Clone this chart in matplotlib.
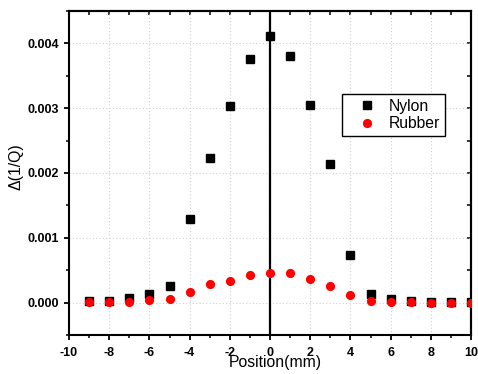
import matplotlib
matplotlib.use("Agg")
import matplotlib.pyplot as plt
from matplotlib.ticker import MultipleLocator, FormatStrFormatter

# ---- data ----
positions = [-9, -8, -7, -6, -5, -4, -3, -2, -1, 0, 1, 2, 3, 4, 5, 6, 7, 8, 9, 10]
nylon = [0.00003, 0.00002, 0.00007, 0.00014, 0.00026, 0.00129, 0.002235, 0.003035,
         0.00376, 0.00412, 0.00380, 0.003057, 0.00214, 0.00074, 0.00014, 0.00006,
         0.00003, 0.00001, 0.00001, 0.00001]
rubber = [0.000005, 0.000005, 0.00001, 0.00004, 0.00006, 0.00016, 0.00028, 0.00034,
          0.00042, 0.00046, 0.00045, 0.00036, 0.00025, 0.00012, 0.00003, 0.000005,
          0.000005, 0.0, 0.0, 0.0]
series_labels = ["Nylon", "Rubber"]
x_label = "Position(mm)"
y_label = "\u0394(1/Q)"

plt.rcParams["font.family"] = ["Liberation Sans", "DejaVu Sans"]
plt.rcParams["axes.unicode_minus"] = False

W, H = 478, 374
fig = plt.figure(figsize=(W / 100, H / 100), dpi=100)
ax = fig.add_axes([69 / W, 1 - 335 / H, (471 - 69) / W, (335 - 11) / H])

ax.set_xlim(-10, 10)
ax.set_ylim(-0.0005, 0.0045)

# grid
ax.grid(True, which="major", linestyle=(0, (1, 2)), color="#d0d0d0", linewidth=0.8)
ax.set_axisbelow(True)

# vertical line at zero
ax.axvline(0, color="black", linewidth=1.6, zorder=2)

ax.plot(positions, nylon, linestyle="none", marker="s", markersize=5.2,
        color="black", label=series_labels[0], zorder=3)
ax.plot(positions, rubber, linestyle="none", marker="o", markersize=6.6,
        color="#ff0000", markeredgewidth=0, label=series_labels[1], zorder=4)

# ticks
ax.xaxis.set_major_locator(MultipleLocator(2))
ax.xaxis.set_minor_locator(MultipleLocator(1))
ax.yaxis.set_major_locator(MultipleLocator(0.001))
ax.yaxis.set_minor_locator(MultipleLocator(0.0005))
ax.yaxis.set_major_formatter(FormatStrFormatter("%.3f"))

ax.tick_params(which="major", direction="out", length=3.8, width=1.3, pad=5.0,
               labelsize=9)
ax.tick_params(which="minor", direction="out", length=2.2, width=1.1)
for lab in ax.get_xticklabels() + ax.get_yticklabels():
    lab.set_fontweight("bold")
ax.tick_params(axis="y", pad=3.5)

for s in ax.spines.values():
    s.set_linewidth(1.5)

# top and right inward ticks
top = ax.secondary_xaxis("top")
top.xaxis.set_major_locator(MultipleLocator(1))
top.tick_params(direction="in", length=3.2, width=1.1, labeltop=False)
top.spines["top"].set_linewidth(1.5)
right = ax.secondary_yaxis("right")
right.yaxis.set_major_locator(MultipleLocator(0.0005))
right.tick_params(direction="in", length=3.2, width=1.1, labelright=False)
right.spines["right"].set_linewidth(1.5)

ax.set_xlabel(x_label, fontsize=11.3)
ax.xaxis.set_label_coords((275.5 - 69) / 402, (335 - 355) / 324)
ax.set_ylabel(y_label, fontsize=11.3)
ax.yaxis.set_label_coords((24 - 69) / 402, (335 - 167) / 324)

leg = ax.legend(loc="upper left", bbox_to_anchor=((342 - 69) / 402, (335 - 94) / 324),
                borderaxespad=0, fancybox=False, edgecolor="black", framealpha=1,
                fontsize=11.3, borderpad=0.3, handlelength=2.6, handletextpad=0.1,
                labelspacing=0.15, numpoints=1)
leg.get_frame().set_linewidth(1.0)

fig.savefig("out.png", dpi=100)
